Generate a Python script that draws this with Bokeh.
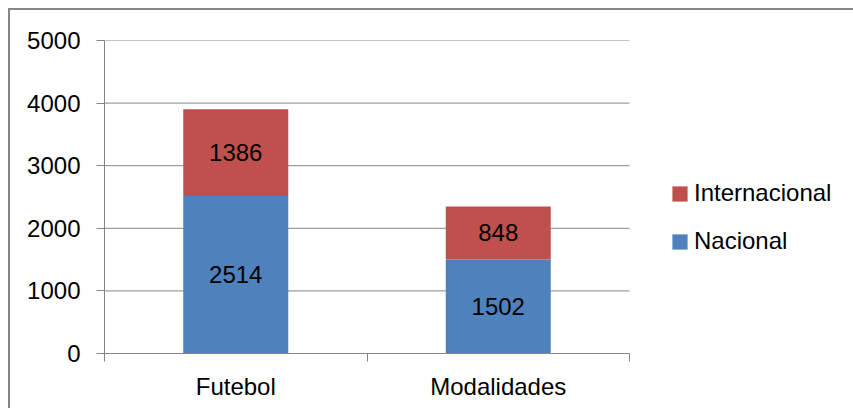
from bokeh.plotting import figure
from bokeh.layouts import column, row
from bokeh.models import (ColumnDataSource, FixedTicker, Legend, LegendItem, Range1d,
                          Spacer)
from bokeh.core.properties import value
from bokeh.embed import file_html
from bokeh.resources import INLINE

categories = ["Futebol", "Modalidades"]
nacional = [2514, 1502]
internacional = [1386, 848]
y_ticks = [0, 1000, 2000, 3000, 4000, 5000]

FONT = "Liberation Sans"
FS = "24px"
GRAY = "#868686"
BLUE = "#4F81BD"
RED = "#C0504D"

W, H = 843, 398
LEFT, TOP, BOTTOM = 94, 30, 55
PLOT_W = 525  # pixel width of the category area

n = len(categories)
xs = [i + 0.5 for i in range(n)]
bounds = list(range(n + 1))
x_end = n * (W - LEFT) / PLOT_W

src = ColumnDataSource(dict(
    x=xs,
    nac=nacional,
    intl=internacional,
    nac_mid=[v / 2 for v in nacional],
    intl_mid=[a + b / 2 for a, b in zip(nacional, internacional)],
    nac_lbl=[str(v) for v in nacional],
    intl_lbl=[str(v) for v in internacional],
))
grid_src = ColumnDataSource(dict(y=y_ticks[1:], x0=[0] * (len(y_ticks) - 1),
                                 x1=[n] * (len(y_ticks) - 1)))

p = figure(width=W, height=H, output_backend="svg", toolbar_location=None,
           x_range=Range1d(0, x_end), y_range=Range1d(0, y_ticks[-1]),
           min_border_left=LEFT, min_border_right=0, min_border_top=TOP,
           min_border_bottom=BOTTOM)
p.outline_line_color = None
p.background_fill_color = "white"
p.border_fill_color = "white"
p.xgrid.visible = False
p.ygrid.visible = False

# horizontal gridlines over the category area
p.segment(x0="x0", x1="x1", y0="y", y1="y", source=grid_src,
          line_color=GRAY, line_width=1)

rs = p.vbar_stack(["nac", "intl"], x="x", width=0.4, color=[BLUE, RED],
                  line_color=None, source=src)

for ycol, tcol in (("nac_mid", "nac_lbl"), ("intl_mid", "intl_lbl")):
    p.text(x="x", y=ycol, text=tcol, source=src, text_align="center",
           text_baseline="middle", text_font=value(FONT), text_font_size=FS,
           text_color="black")

# x axis
xa = p.xaxis[0]
xa.bounds = (0, n)
xa.ticker = FixedTicker(ticks=xs, minor_ticks=bounds)
xa.major_label_overrides = {x: c for x, c in zip(xs, categories)}
xa.major_tick_line_color = None
xa.major_tick_out = 8
xa.major_tick_in = 0
xa.minor_tick_out = 8
xa.minor_tick_in = 0
xa.minor_tick_line_color = GRAY
xa.axis_line_color = GRAY
xa.major_label_standoff = 11
xa.major_label_text_font = FONT
xa.major_label_text_font_size = FS
xa.major_label_text_color = "black"

# y axis
ya = p.yaxis[0]
ya.ticker = FixedTicker(ticks=y_ticks)
ya.major_tick_out = 8
ya.major_tick_in = 0
ya.minor_tick_line_color = None
ya.major_tick_line_color = GRAY
ya.axis_line_color = GRAY
ya.major_label_standoff = 16
ya.major_label_text_font = FONT
ya.major_label_text_font_size = FS
ya.major_label_text_color = "black"

legend = Legend(items=[LegendItem(label="Internacional", renderers=[rs[1]]),
                       LegendItem(label="Nacional", renderers=[rs[0]])],
                location=(566, 98), padding=0, margin=0, spacing=20,
                glyph_width=19, glyph_height=19, label_standoff=5,
                label_height=28, label_text_font=FONT, label_text_font_size=FS,
                label_text_color="black", border_line_color=None,
                background_fill_alpha=0)
p.add_layout(legend)

# chart-area border (left and top edges) built from layout spacers
top_line = Spacer(width=W + 2, height=2, styles={"background-color": GRAY})
left_line = Spacer(width=2, height=H, styles={"background-color": GRAY})
chart = column(top_line, row(left_line, p))

page = column(Spacer(height=8, width=10), row(Spacer(width=8, height=10), chart))

open("out.html", "w").write(file_html(page, INLINE))
